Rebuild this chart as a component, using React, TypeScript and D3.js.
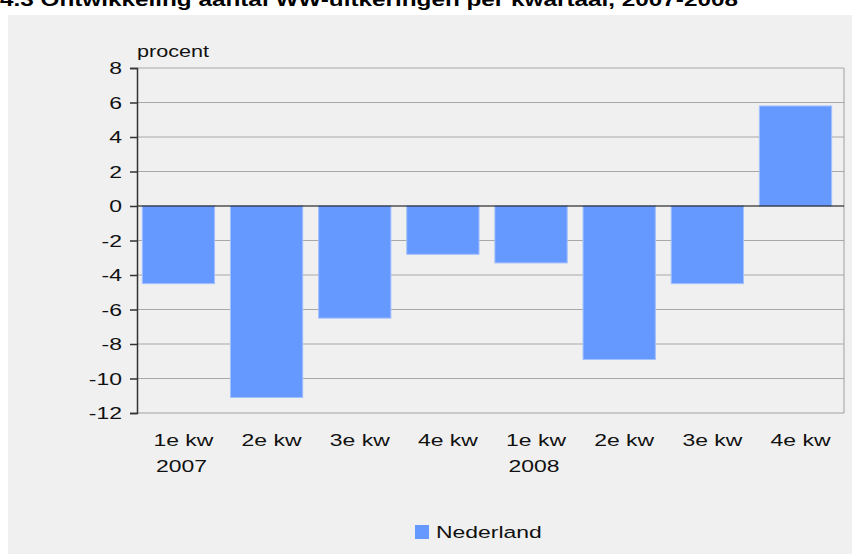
import React, { useRef, useEffect } from 'react';
import * as d3 from 'd3';

const quarters = ['1e kw', '2e kw', '3e kw', '4e kw', '1e kw', '2e kw', '3e kw', '4e kw'];
const years = ['2007', '', '', '', '2008', '', '', ''];
const nederland = [-4.5, -11.1, -6.5, -2.8, -3.3, -8.9, -4.5, 5.8];
const yTicks = [8, 6, 4, 2, 0, -2, -4, -6, -8, -10, -12];

const title = '4.3 Ontwikkeling aantal WW-uitkeringen per kwartaal, 2007-2008';

// the original picture is stretched sideways, so text is too
const STRETCH = 1.35;
const font = 'Liberation Sans, Arial, sans-serif';

function addText(
  g: d3.Selection<SVGGElement, unknown, null, undefined> | d3.Selection<SVGSVGElement, unknown, null, undefined>,
  x: number, y: number, txt: string, size: number, anchor = 'start', bold = false
) {
  (g as any).append('text')
    .attr('transform', `translate(${x},${y}) scale(${STRETCH},1)`)
    .attr('text-anchor', anchor)
    .attr('font-family', font)
    .attr('font-size', size)
    .attr('font-weight', bold ? 'bold' : 'normal')
    .attr('fill', bold ? '#000' : '#111')
    .text(txt);
}

export default function App() {
  const svgRef = useRef<SVGSVGElement>(null);

  useEffect(() => {
    if (!svgRef.current) return;
    const width = 860;
    const height = 554;
    const svg = d3.select(svgRef.current)
      .attr('width', width)
      .attr('height', height);
    svg.selectAll('*').remove();

    // panel
    svg.append('rect')
      .attr('x', 8).attr('y', 15)
      .attr('width', 844).attr('height', 539)
      .attr('fill', '#f0f0f0');

    // title, top half cut off as in the original
    addText(svg, 0, 6, title, 18, 'start', true);

    const left = 137, right = 844, top = 68, bottom = 413;

    const x = d3.scaleBand<number>()
      .domain(d3.range(nederland.length))
      .range([left, right])
      .paddingInner(0.18)
      .paddingOuter(0.1)
      .align(0.3);

    const y = d3.scaleLinear()
      .domain([-12, 8])
      .range([bottom, top]);

    // grid
    svg.append('g')
      .selectAll('line')
      .data(yTicks.filter(t => t !== 0 && t !== -12))
      .join('line')
      .attr('x1', left).attr('x2', right)
      .attr('y1', d => y(d)).attr('y2', d => y(d))
      .attr('stroke', '#a8a8a8')
      .attr('stroke-width', 1);

    // right + bottom frame
    svg.append('path')
      .attr('d', `M${right},${y(8)}V${y(-12)}H${left}`)
      .attr('fill', 'none')
      .attr('stroke', '#a0a0a0')
      .attr('stroke-width', 1);

    // bars
    svg.append('g')
      .selectAll('rect')
      .data(nederland)
      .join('rect')
      .attr('x', (_, i) => x(i)!)
      .attr('width', x.bandwidth())
      .attr('y', d => y(Math.max(0, d)))
      .attr('height', d => Math.abs(y(d) - y(0)))
      .attr('fill', '#6699ff')
      .attr('stroke', '#a3c0ff')
      .attr('stroke-width', 1);

    // zero line
    svg.append('line')
      .attr('x1', left).attr('x2', right)
      .attr('y1', y(0)).attr('y2', y(0))
      .attr('stroke', '#000')
      .attr('stroke-width', 1.2);

    // y axis (labels drawn separately, stretched)
    const yAxis = d3.axisLeft(y)
      .tickValues(yTicks)
      .tickSize(7)
      .tickFormat(() => '');
    const yg = svg.append('g')
      .attr('transform', `translate(${left},0)`)
      .call(yAxis);
    yg.select('.domain').attr('stroke', '#333').attr('stroke-width', 1.5);
    yg.selectAll('.tick line').attr('stroke', '#333').attr('stroke-width', 1.5);

    const yl = svg.append('g');
    yTicks.forEach(t => addText(yl, 122, y(t) + 6, String(t), 17, 'end'));

    // unit label
    addText(svg, 137, 57, 'procent', 16);

    // x labels
    const xl = svg.append('g');
    quarters.forEach((q, i) => addText(xl, x(i)! + x.bandwidth() / 2 + 5, 446, q, 17, 'middle'));
    years.forEach((yr, i) => { if (yr) addText(xl, x(i)! + x.bandwidth() / 2 + 3, 472, yr, 17, 'middle'); });

    // legend
    const lg = svg.append('g').attr('transform', 'translate(415,525)');
    lg.append('rect')
      .attr('width', 14).attr('height', 14)
      .attr('fill', '#6699ff');
    addText(lg, 21, 13, 'Nederland', 17);
  }, []);

  return (
    <div style={{ position: 'absolute', left: 0, top: 0 }}>
      <svg ref={svgRef} style={{ display: 'block', background: '#ffffff' }} />
    </div>
  );
}
